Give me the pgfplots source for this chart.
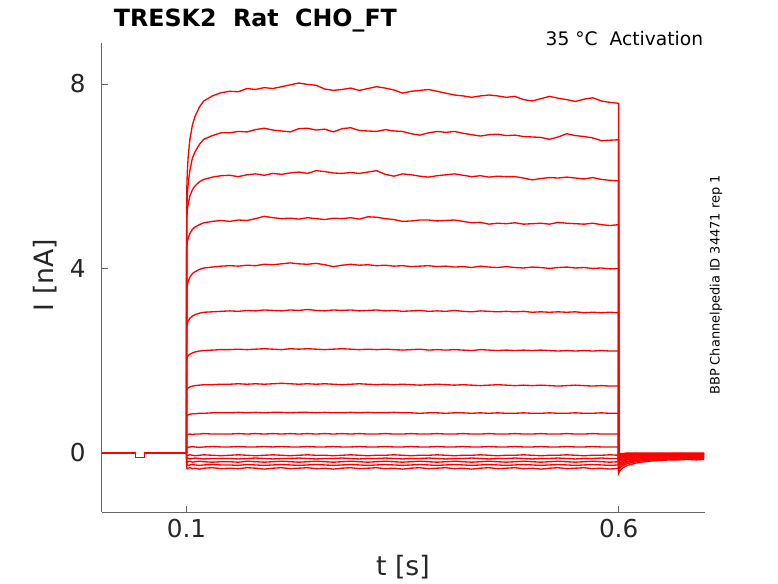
\documentclass[border=0pt]{standalone}
\usepackage{fontspec}
\setmainfont{DejaVu Sans}
\usepackage{pgfplots}
\usepackage{pgfplotstable}
\pgfplotsset{compat=1.18}
\definecolor{axgray}{rgb}{0.40,0.40,0.40}
\definecolor{lblgray}{rgb}{0.15,0.15,0.15}
\definecolor{tracered}{rgb}{1,0,0}

\pgfplotstableread{
t c1 c2 c3 c4 c5 c6 c7 c8 c9 c10 c11 c12 c13 c14 c15 c16
0.1 0 0 0 0 0 0 0 0 0 0 0 0 0 0 0 0
0.1003 5.65 5.23 5.07 4.44 3.53 2.74 2.04 1.37 0.81 0.39 0.12 -0.05 -0.12 -0.19 -0.26 -0.33
0.101 6.09 5.58 5.26 4.57 3.64 2.81 2.08 1.40 0.82 0.40 0.13 -0.06 -0.11 -0.20 -0.25 -0.34
0.102 6.42 5.84 5.40 4.66 3.72 2.86 2.11 1.41 0.83 0.40 0.12 -0.05 -0.12 -0.19 -0.27 -0.33
0.104 6.80 6.13 5.57 4.76 3.81 2.92 2.14 1.43 0.84 0.41 0.13 -0.04 -0.13 -0.18 -0.26 -0.32
0.107 7.12 6.40 5.71 4.85 3.89 2.97 2.17 1.45 0.85 0.40 0.14 -0.05 -0.12 -0.20 -0.25 -0.34
0.11 7.30 6.53 5.79 4.90 3.93 3.00 2.19 1.46 0.85 0.41 0.13 -0.06 -0.11 -0.19 -0.26 -0.33
0.115 7.50 6.69 5.88 4.95 3.98 3.03 2.21 1.47 0.86 0.41 0.12 -0.05 -0.12 -0.18 -0.27 -0.35
0.12 7.63 6.80 5.93 4.99 4.01 3.05 2.22 1.48 0.86 0.42 0.13 -0.04 -0.13 -0.19 -0.26 -0.33
0.13 7.74 6.88 5.98 5.02 4.03 3.06 2.23 1.48 0.87 0.41 0.14 -0.05 -0.12 -0.20 -0.25 -0.32
0.14 7.81 6.94 6.01 5.04 4.05 3.07 2.24 1.49 0.87 0.41 0.13 -0.06 -0.12 -0.19 -0.26 -0.34
0.15 7.84 6.94 6.02 5.02 4.06 3.08 2.24 1.49 0.87 0.41 0.13 -0.05 -0.12 -0.19 -0.26 -0.33
0.16 7.83 6.97 5.99 5.05 4.05 3.07 2.25 1.50 0.88 0.42 0.14 -0.04 -0.13 -0.20 -0.27 -0.34
0.17 7.90 6.96 6.03 5.04 4.07 3.09 2.24 1.49 0.87 0.41 0.13 -0.05 -0.12 -0.18 -0.25 -0.32
0.18 7.88 7.01 6.05 5.08 4.06 3.08 2.25 1.50 0.88 0.42 0.13 -0.06 -0.11 -0.19 -0.26 -0.33
0.19 7.92 7.04 6.02 5.13 4.09 3.10 2.26 1.49 0.87 0.41 0.14 -0.05 -0.12 -0.20 -0.27 -0.35
0.20 7.90 7.00 6.06 5.10 4.08 3.09 2.25 1.50 0.88 0.42 0.13 -0.04 -0.13 -0.19 -0.26 -0.33
0.21 7.94 6.98 6.04 5.08 4.10 3.08 2.24 1.51 0.88 0.41 0.14 -0.05 -0.12 -0.18 -0.25 -0.32
0.22 7.98 6.96 6.07 5.09 4.12 3.10 2.26 1.50 0.87 0.42 0.13 -0.06 -0.12 -0.19 -0.26 -0.34
0.23 8.02 7.03 6.09 5.07 4.10 3.09 2.25 1.49 0.88 0.41 0.13 -0.05 -0.11 -0.20 -0.27 -0.33
0.24 7.99 7.04 6.06 5.10 4.09 3.11 2.26 1.50 0.88 0.42 0.14 -0.04 -0.12 -0.19 -0.26 -0.32
0.25 7.97 7.00 6.12 5.08 4.11 3.09 2.25 1.49 0.87 0.41 0.13 -0.05 -0.13 -0.18 -0.25 -0.34
0.26 7.89 7.02 6.10 5.06 4.08 3.08 2.24 1.50 0.88 0.42 0.13 -0.05 -0.12 -0.19 -0.26 -0.33
0.27 7.86 6.96 6.07 5.09 4.04 3.10 2.25 1.49 0.87 0.41 0.14 -0.06 -0.12 -0.20 -0.27 -0.35
0.28 7.88 7.03 6.06 5.08 4.07 3.09 2.26 1.48 0.87 0.42 0.13 -0.05 -0.11 -0.19 -0.26 -0.33
0.29 7.91 7.05 6.08 5.10 4.09 3.10 2.25 1.49 0.88 0.41 0.13 -0.04 -0.12 -0.18 -0.25 -0.32
0.30 7.86 6.99 6.06 5.07 4.07 3.08 2.24 1.50 0.87 0.42 0.14 -0.05 -0.13 -0.19 -0.26 -0.34
0.31 7.90 6.98 6.09 5.12 4.08 3.09 2.25 1.49 0.88 0.41 0.13 -0.06 -0.12 -0.20 -0.27 -0.33
0.32 7.94 6.97 6.12 5.11 4.06 3.10 2.24 1.48 0.87 0.41 0.13 -0.05 -0.12 -0.19 -0.26 -0.32
0.33 7.91 7.01 6.04 5.08 4.07 3.08 2.25 1.49 0.87 0.42 0.14 -0.05 -0.11 -0.18 -0.25 -0.34
0.34 7.87 6.98 6.00 5.06 4.05 3.09 2.24 1.48 0.88 0.41 0.13 -0.04 -0.12 -0.19 -0.26 -0.33
0.35 7.80 6.97 6.05 5.02 4.06 3.07 2.23 1.49 0.87 0.41 0.13 -0.05 -0.13 -0.20 -0.27 -0.35
0.36 7.84 6.92 6.03 5.03 4.04 3.08 2.24 1.48 0.87 0.42 0.14 -0.06 -0.12 -0.19 -0.26 -0.33
0.37 7.86 6.89 6.00 5.05 4.05 3.09 2.25 1.47 0.86 0.41 0.13 -0.05 -0.12 -0.18 -0.25 -0.32
0.38 7.88 6.94 5.98 5.05 4.06 3.07 2.23 1.48 0.87 0.41 0.13 -0.05 -0.11 -0.19 -0.26 -0.34
0.39 7.84 6.97 6.01 5.03 4.04 3.08 2.24 1.49 0.87 0.42 0.14 -0.04 -0.12 -0.20 -0.27 -0.33
0.40 7.80 6.95 6.03 5.04 4.05 3.07 2.23 1.48 0.86 0.41 0.13 -0.05 -0.13 -0.19 -0.26 -0.32
0.41 7.76 6.97 6.05 5.05 4.03 3.09 2.24 1.47 0.87 0.41 0.13 -0.06 -0.12 -0.18 -0.25 -0.34
0.42 7.74 6.93 6.02 5.02 4.04 3.07 2.23 1.48 0.87 0.42 0.14 -0.05 -0.12 -0.19 -0.26 -0.33
0.43 7.71 6.90 5.99 4.99 4.02 3.06 2.22 1.47 0.86 0.41 0.13 -0.05 -0.11 -0.20 -0.27 -0.35
0.44 7.74 6.87 6.01 5.00 4.05 3.08 2.24 1.46 0.87 0.41 0.13 -0.04 -0.12 -0.19 -0.26 -0.33
0.45 7.76 6.90 5.98 4.96 4.03 3.07 2.23 1.47 0.86 0.42 0.14 -0.05 -0.13 -0.18 -0.25 -0.32
0.46 7.74 6.91 6.00 4.98 4.02 3.06 2.22 1.48 0.87 0.41 0.13 -0.06 -0.12 -0.19 -0.26 -0.34
0.47 7.71 6.88 5.99 4.97 4.04 3.07 2.23 1.47 0.86 0.41 0.13 -0.05 -0.12 -0.20 -0.27 -0.33
0.48 7.73 6.89 5.99 4.99 4.02 3.06 2.22 1.46 0.86 0.42 0.14 -0.05 -0.11 -0.19 -0.26 -0.32
0.49 7.66 6.86 5.96 4.96 4.01 3.07 2.23 1.47 0.87 0.41 0.13 -0.04 -0.12 -0.18 -0.25 -0.34
0.50 7.63 6.85 5.92 4.97 4.03 3.05 2.22 1.46 0.86 0.41 0.13 -0.05 -0.13 -0.19 -0.26 -0.33
0.51 7.68 6.84 5.95 4.98 4.02 3.06 2.23 1.47 0.86 0.42 0.14 -0.06 -0.12 -0.20 -0.27 -0.35
0.52 7.73 6.80 5.97 4.96 4.00 3.05 2.22 1.46 0.87 0.41 0.13 -0.05 -0.12 -0.19 -0.26 -0.33
0.53 7.69 6.85 5.96 5.00 4.02 3.06 2.21 1.45 0.86 0.41 0.13 -0.05 -0.11 -0.18 -0.25 -0.32
0.54 7.66 6.92 5.98 4.98 4.03 3.05 2.22 1.46 0.86 0.42 0.14 -0.04 -0.12 -0.19 -0.26 -0.34
0.55 7.62 6.88 5.96 4.97 4.01 3.06 2.21 1.47 0.87 0.41 0.13 -0.05 -0.13 -0.20 -0.27 -0.33
0.56 7.67 6.86 5.94 4.96 4.02 3.04 2.22 1.46 0.86 0.41 0.13 -0.06 -0.12 -0.19 -0.26 -0.32
0.57 7.70 6.83 5.97 4.98 4.00 3.05 2.21 1.45 0.86 0.42 0.14 -0.05 -0.12 -0.18 -0.25 -0.34
0.58 7.63 6.77 5.93 4.95 4.01 3.04 2.22 1.46 0.87 0.41 0.13 -0.05 -0.11 -0.19 -0.26 -0.33
0.59 7.60 6.78 5.91 4.93 3.99 3.05 2.21 1.45 0.86 0.41 0.13 -0.04 -0.12 -0.20 -0.27 -0.35
0.60 7.58 6.79 5.90 4.95 4.00 3.04 2.21 1.45 0.86 0.41 0.13 -0.05 -0.12 -0.19 -0.26 -0.33
0.60 -0.44 -0.38 -0.33 -0.28 -0.24 -0.20 -0.17 -0.14 -0.12 -0.10 -0.08 -0.06 -0.05 -0.04 -0.02 -0.01
0.601 -0.40 -0.34 -0.30 -0.25 -0.22 -0.18 -0.16 -0.13 -0.11 -0.09 -0.07 -0.06 -0.05 -0.04 -0.02 -0.01
0.603 -0.35 -0.30 -0.26 -0.23 -0.20 -0.16 -0.14 -0.12 -0.10 -0.08 -0.07 -0.05 -0.04 -0.03 -0.02 -0.01
0.606 -0.31 -0.26 -0.23 -0.20 -0.17 -0.15 -0.13 -0.10 -0.09 -0.07 -0.06 -0.05 -0.04 -0.03 -0.02 -0.01
0.61 -0.27 -0.23 -0.20 -0.18 -0.15 -0.13 -0.11 -0.09 -0.08 -0.07 -0.05 -0.04 -0.03 -0.03 -0.01 0.00
0.62 -0.22 -0.19 -0.17 -0.15 -0.13 -0.11 -0.10 -0.08 -0.07 -0.06 -0.04 -0.04 -0.03 -0.02 -0.01 0.00
0.63 -0.19 -0.16 -0.14 -0.13 -0.11 -0.10 -0.09 -0.07 -0.06 -0.05 -0.04 -0.03 -0.02 -0.02 -0.01 0.00
0.64 -0.17 -0.15 -0.13 -0.12 -0.10 -0.09 -0.08 -0.07 -0.06 -0.05 -0.04 -0.03 -0.02 -0.02 -0.01 0.00
0.65 -0.16 -0.14 -0.13 -0.11 -0.10 -0.09 -0.08 -0.07 -0.05 -0.04 -0.03 -0.03 -0.02 -0.02 -0.01 0.00
0.66 -0.15 -0.13 -0.12 -0.11 -0.09 -0.08 -0.07 -0.06 -0.05 -0.04 -0.03 -0.03 -0.02 -0.02 -0.01 0.00
0.67 -0.15 -0.13 -0.11 -0.10 -0.10 -0.08 -0.07 -0.06 -0.05 -0.04 -0.04 -0.03 -0.02 -0.01 -0.01 0.00
0.68 -0.14 -0.12 -0.12 -0.10 -0.09 -0.08 -0.07 -0.06 -0.05 -0.05 -0.03 -0.03 -0.02 -0.02 -0.01 0.00
0.69 -0.15 -0.12 -0.11 -0.10 -0.09 -0.08 -0.07 -0.06 -0.05 -0.04 -0.03 -0.02 -0.02 -0.02 -0.01 0.00
0.699 -0.14 -0.12 -0.11 -0.10 -0.09 -0.08 -0.07 -0.06 -0.05 -0.04 -0.03 -0.03 -0.02 -0.02 -0.01 0.00
}\traces

\begin{document}
\begin{tikzpicture}
\path[use as bounding box] (0,0) rectangle (583.5pt,437.25pt);
\begin{axis}[
  at={(76.3pt,53.25pt)}, anchor=south west,
  scale only axis, width=452.5pt, height=351.5pt,
  xmin=0.002, xmax=0.7, ymin=-1.28, ymax=8.88,
  axis lines*=left,
  axis line style={color=axgray, line width=0.6pt},
  tick style={color=axgray, line width=0.6pt},
  tick align=inside, major tick length=4.5pt,
  xtick={0.1,0.6}, xticklabels={0.1,0.6},
  ytick={0,4,8}, yticklabels={0,4,8},
  /pgf/number format/assume math mode=true,
  ticklabel style={font=\fontsize{18.5}{22}\selectfont, text=lblgray},
  xticklabel style={yshift=-2pt},
  yticklabel style={xshift=-8.5pt},
  clip=false,
]
\addplot[tracered, line width=1pt] coordinates {(0.002,0) (0.0407,0) (0.0407,-0.1) (0.0511,-0.1) (0.0511,0) (0.1,0)};
\pgfplotsinvokeforeach{1,...,16}{
  \addplot[tracered, line width=1pt] table[x=t, y=c#1] {\traces};
}
\end{axis}
\node[anchor=base west, inner sep=0pt, font=\bfseries\fontsize{17.8}{21}\selectfont] at (85.2pt,417.2pt) {TRESK2\ \ Rat\ \ CHO\_FT};
\node[anchor=base east, inner sep=0pt, font=\fontsize{14}{17}\selectfont, text=black] at (527.5pt,403pt) {35 °C\ \ Activation};
\node[rotate=90, font=\fontsize{9.7}{12}\selectfont] at (537pt,223.5pt) {BBP Channelpedia ID 34471 rep 1};
\node[font=\fontsize{20}{24}\selectfont, text=lblgray] at (302.2pt,12pt) {t [s]};
\node[rotate=90, font=\fontsize{20}{24}\selectfont, text=lblgray] at (33.75pt,231pt) {I [nA]};
\end{tikzpicture}
\end{document}
